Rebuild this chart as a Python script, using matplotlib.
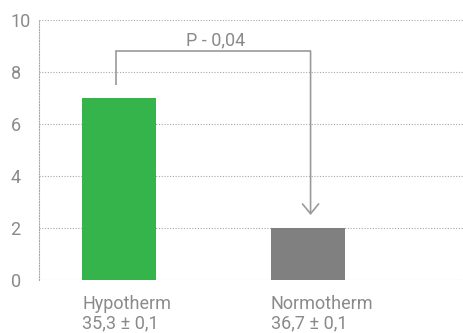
import matplotlib
matplotlib.use("Agg")
import matplotlib.pyplot as plt

categories = ["Hypotherm\n35,3 ± 0,1", "Normotherm\n36,7 ± 0,1"]
values = [7.0, 2.0]
colors = ["#34b44a", "#808080"]
yticks = [0, 2, 4, 6, 8, 10]
p_label = "P - 0,04"

plt.rcParams['font.family'] = ['Roboto', 'DejaVu Sans']
txt = "#8a8a8a"
line_c = "#9a9a9a"
grid_c = "#a8a8a8"

fig = plt.figure(figsize=(4.64, 3.33), dpi=100)
ax = fig.add_axes([39/464, 53/333, 1 - 39/464 - 0.001, 260/333])

x = [0, 1]
w = 0.39
ax.bar(x, values, width=w, color=colors, zorder=3)

ax.set_xlim(-0.423, 1.825)
ax.set_ylim(0, 10)
ax.set_yticks(yticks)
ax.set_yticklabels([str(t) for t in yticks], ha='left')
ax.tick_params(axis='y', length=0, pad=20.5, labelsize=13, labelcolor=txt)

ax.set_xticks([xi - w/2 for xi in x])
ax.set_xticklabels(categories, ha='left', va='top', linespacing=1.1)
ax.tick_params(axis='x', length=0, pad=11, labelsize=13, labelcolor=txt)

for s in ['top', 'right', 'bottom']:
    ax.spines[s].set_visible(False)
ax.spines['left'].set_linestyle((0, (1, 1.5)))
ax.spines['left'].set_color(grid_c)
ax.spines['left'].set_linewidth(0.8)

ax.yaxis.grid(True, linestyle=(0, (1, 1.5)), color=grid_c, linewidth=0.8, zorder=0)
ax.set_axisbelow(True)

# bracket
xl, xr = -0.015, 1.015
ytop = 8.8
ax.plot([xl, xl, xr], [7.5, ytop, ytop], color=line_c, linewidth=1.2, zorder=4,
        solid_capstyle='butt', solid_joinstyle='miter')
ax.annotate("", xy=(xr, 2.5), xytext=(xr, ytop),
            arrowprops=dict(arrowstyle="->,head_length=0.7,head_width=0.58",
                            color=line_c, lw=1.2, shrinkA=0, shrinkB=0), zorder=4)
ax.text(0.51, 9.03, p_label, ha='center', va='baseline', fontsize=13, color=txt)

fig.savefig("out.png", dpi=100)
